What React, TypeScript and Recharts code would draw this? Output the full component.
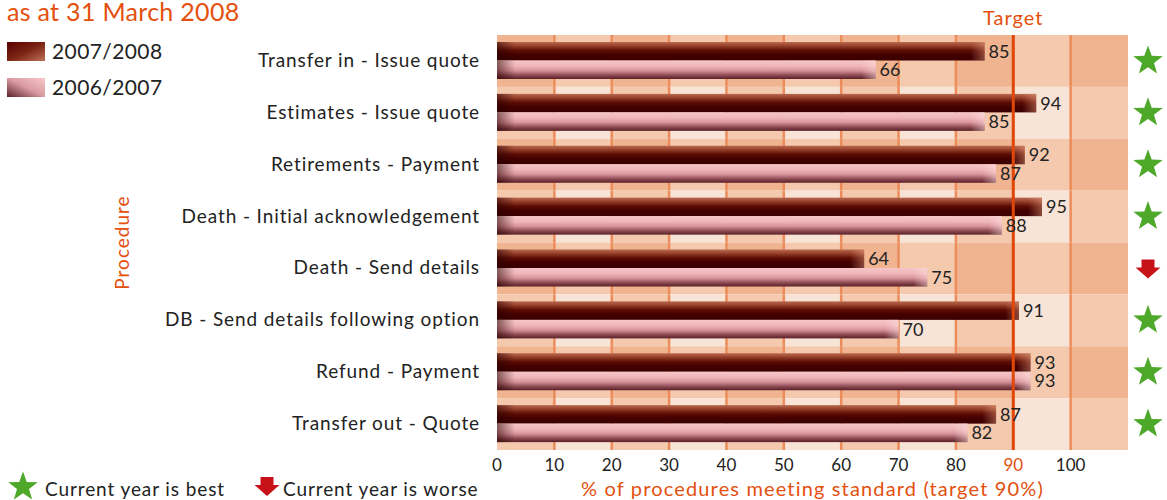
import React from 'react';
import {
  BarChart,
  Bar,
  XAxis,
  YAxis,
  ReferenceArea,
  ReferenceLine,
  LabelList,
} from 'recharts';

const procedures = [
  'Transfer in - Issue quote',
  'Estimates - Issue quote',
  'Retirements - Payment',
  'Death - Initial acknowledgement',
  'Death - Send details',
  'DB - Send details following option',
  'Refund - Payment',
  'Transfer out - Quote',
];
const current = [85, 94, 92, 95, 64, 91, 93, 87];
const previous = [66, 85, 87, 88, 75, 70, 93, 82];
const trend = ['best', 'best', 'best', 'best', 'worse', 'best', 'best', 'best'];
const xTicks = [0, 10, 20, 30, 40, 50, 60, 70, 80, 90, 100];
const bands = [0, 10, 20, 30, 40, 50, 60, 70, 80, 90, 100];
const target = 90;

const ORANGE = '#e4500e';
const TARGET_RED = '#e0480a';
const GRID = '#ec8c5a';
const CELL = ['#f0b491', '#f4c9ae', '#f8e4d6'];
const GREEN = '#4ea82a';
const DOWN_RED = '#c8121a';
const FONT = 'Lato, "Open Sans", sans-serif';

const rows = procedures.map((procedure, i) => ({
  procedure,
  current: current[i],
  previous: previous[i],
}));

const starPoints = (cx: number, cy: number, outer: number, inner: number) => {
  const pts: string[] = [];
  for (let i = 0; i < 10; i++) {
    const r = i % 2 === 0 ? outer : inner;
    const a = -Math.PI / 2 + (i * Math.PI) / 5;
    pts.push(`${cx + r * Math.cos(a)},${cy + r * Math.sin(a)}`);
  }
  return pts.join(' ');
};

const Star = ({ cx, cy }: { cx: number; cy: number }) => (
  <polygon points={starPoints(cx, cy, 15.5, 6.3)} fill={GREEN} />
);

const DownArrow = ({ cx, cy }: { cx: number; cy: number }) => (
  <polygon
    points={`${cx - 6.5},${cy - 9} ${cx + 6.5},${cy - 9} ${cx + 6.5},${cy - 1} ${cx + 12.5},${cy - 1} ${cx},${cy + 10} ${cx - 12.5},${cy - 1} ${cx - 6.5},${cy - 1}`}
    fill={DOWN_RED}
  />
);

// one background cell, with the grid line on its left edge (except at 0)
const makeCell = (fill: string, withLine: boolean) => (props: any) => {
  const { x, y, width, height } = props;
  return (
    <g>
      <rect x={x} y={y} width={width} height={height} fill={fill} />
      {withLine && (
        <line x1={x} x2={x} y1={y} y2={y + height} stroke={GRID} strokeWidth={2.5} />
      )}
    </g>
  );
};

const makeBarShape = (grad: string, cap: string) => (props: any) => {
  const { x, y, width, height } = props;
  if (!width || width <= 0) return <g />;
  const lw = Math.min(18, width);
  const rw = Math.min(14, width);
  return (
    <g>
      <rect x={x} y={y} width={width} height={height} fill={`url(#${grad})`} />
      <rect x={x} y={y} width={lw} height={height} fill="url(#capLeft)" />
      <rect x={x + width - rw} y={y} width={rw} height={height} fill={`url(#${cap})`} />
    </g>
  );
};

const ProcTick = (props: any) => {
  const { x, y, payload } = props;
  return (
    <text
      x={x}
      y={y}
      dy={6}
      textAnchor="end"
      fontSize={19}
      letterSpacing={0.9}
      fill="#222"
      fontFamily={FONT}
    >
      {payload.value}
    </text>
  );
};

const TrendTick = (props: any) => {
  const { x, y, index } = props;
  const cx = x + 20;
  return trend[index] === 'worse' ? <DownArrow cx={cx} cy={y} /> : <Star cx={cx} cy={y} />;
};

const ValueTick = (props: any) => {
  const { x, y, payload } = props;
  return (
    <text
      x={x}
      y={y + 21}
      textAnchor="middle"
      fontSize={17}
      fill={payload.value === target ? ORANGE : '#222'}
      fontFamily={FONT}
    >
      {payload.value}
    </text>
  );
};

export default function App() {
  return (
    <div
      style={{
        position: 'absolute',
        left: 0,
        top: 0,
        width: 1167,
        height: 500,
        background: '#fff',
        fontFamily: FONT,
      }}
    >
      <BarChart
        width={1167}
        height={500}
        data={rows}
        layout="vertical"
        margin={{ top: 35, right: 0, bottom: 0, left: 0 }}
        barSize={18.5}
        barGap={0}
      >
        <defs>
          <linearGradient id="gCur" x1="0" y1="0" x2="0" y2="1">
            <stop offset="0" stopColor="#b96a50" />
            <stop offset="0.18" stopColor="#9c4630" />
            <stop offset="0.45" stopColor="#5e0e04" />
            <stop offset="0.7" stopColor="#440000" />
            <stop offset="1" stopColor="#3a0000" />
          </linearGradient>
          <linearGradient id="gPrev" x1="0" y1="0" x2="0" y2="1">
            <stop offset="0" stopColor="#f6c6ca" />
            <stop offset="0.3" stopColor="#efb6b8" />
            <stop offset="0.55" stopColor="#d8929a" />
            <stop offset="0.8" stopColor="#8c4a52" />
            <stop offset="1" stopColor="#5a2028" />
          </linearGradient>
          <linearGradient id="capLeft" x1="0" y1="0" x2="1" y2="0">
            <stop offset="0" stopColor="#2a0000" stopOpacity={0.55} />
            <stop offset="1" stopColor="#2a0000" stopOpacity={0} />
          </linearGradient>
          <linearGradient id="capCur" x1="0" y1="0" x2="1" y2="0">
            <stop offset="0" stopColor="#e8a080" stopOpacity={0} />
            <stop offset="1" stopColor="#e8a080" stopOpacity={0.45} />
          </linearGradient>
          <linearGradient id="capPrev" x1="0" y1="0" x2="1" y2="0">
            <stop offset="0" stopColor="#ffe0e0" stopOpacity={0} />
            <stop offset="1" stopColor="#ffe0e0" stopOpacity={0.5} />
          </linearGradient>
        </defs>

        <XAxis
          type="number"
          domain={[0, 110]}
          ticks={xTicks}
          allowDataOverflow
          axisLine={false}
          tickLine={false}
          tickSize={0}
          tickMargin={0}
          height={50}
          tick={<ValueTick />}
          label={{
            value: '% of procedures meeting standard (target 90%)',
            position: 'insideBottom',
            offset: 4,
            fill: ORANGE,
            fontSize: 20,
            letterSpacing: 1.15,
          }}
        />
        <YAxis
          yAxisId="proc"
          type="category"
          dataKey="procedure"
          width={497}
          axisLine={false}
          tickLine={false}
          tickSize={0}
          tickMargin={17}
          interval={0}
          tick={<ProcTick />}
          label={{
            value: 'Procedure',
            angle: -90,
            position: 'insideLeft',
            offset: 122,
            fill: ORANGE,
            fontSize: 19,
            letterSpacing: 1,
            style: { textAnchor: 'middle' },
          }}
        />
        <YAxis
          yAxisId="trend"
          orientation="right"
          type="category"
          dataKey="procedure"
          width={39}
          axisLine={false}
          tickLine={false}
          tickSize={0}
          tickMargin={0}
          interval={0}
          tick={<TrendTick />}
        />

        {procedures.flatMap((p, r) =>
          bands.map((b, c) => (
            <ReferenceArea
              key={`${r}-${c}`}
              yAxisId="proc"
              x1={b}
              x2={b + 10}
              y1={p}
              y2={p}
              ifOverflow="visible"
              shape={makeCell(CELL[(r % 2) + (c % 2)], b > 0)}
            />
          ))
        )}

        <Bar
          yAxisId="proc"
          dataKey="current"
          name="2007/2008"
          shape={makeBarShape('gCur', 'capCur')}
          isAnimationActive={false}
        >
          <LabelList dataKey="current" position="right" offset={4} fill="#222" fontSize={18} />
        </Bar>
        <Bar
          yAxisId="proc"
          dataKey="previous"
          name="2006/2007"
          shape={makeBarShape('gPrev', 'capPrev')}
          isAnimationActive={false}
        >
          <LabelList dataKey="previous" position="right" offset={4} fill="#222" fontSize={18} />
        </Bar>

        <ReferenceLine
          yAxisId="proc"
          x={target}
          stroke={TARGET_RED}
          strokeWidth={3}
          label={{
            value: 'Target',
            position: 'top',
            offset: 10,
            fill: ORANGE,
            fontSize: 20,
            letterSpacing: 1,
          }}
        />
      </BarChart>

      {/* title and legends */}
      <svg
        width={1167}
        height={500}
        style={{ position: 'absolute', left: 0, top: 0, pointerEvents: 'none' }}
      >
        <defs>
          <linearGradient id="swCur" x1="0" y1="0" x2="1" y2="1">
            <stop offset="0" stopColor="#5a0000" />
            <stop offset="0.5" stopColor="#7a2414" />
            <stop offset="1" stopColor="#c07058" />
          </linearGradient>
          <linearGradient id="swPrev" x1="0" y1="1" x2="1" y2="0">
            <stop offset="0" stopColor="#5a2028" />
            <stop offset="0.5" stopColor="#d89aa0" />
            <stop offset="1" stopColor="#f8c8cc" />
          </linearGradient>
        </defs>
        <text x={7} y={21} fontSize={25} letterSpacing={0.3} fill={ORANGE} fontFamily={FONT}>
          as at 31 March 2008
        </text>
        <rect x={7} y={42} width={38} height={19} fill="url(#swCur)" />
        <text x={52} y={59} fontSize={21} letterSpacing={0.4} fill="#222" fontFamily={FONT}>
          2007/2008
        </text>
        <rect x={7} y={78} width={38} height={19} fill="url(#swPrev)" />
        <text x={52} y={95} fontSize={21} letterSpacing={0.4} fill="#222" fontFamily={FONT}>
          2006/2007
        </text>

        <Star cx={23} cy={487} />
        <text x={45} y={496} fontSize={19} letterSpacing={0.9} fill="#222" fontFamily={FONT}>
          Current year is best
        </text>
        <DownArrow cx={267} cy={486} />
        <text x={283} y={496} fontSize={19} letterSpacing={0.9} fill="#222" fontFamily={FONT}>
          Current year is worse
        </text>
      </svg>
    </div>
  );
}
